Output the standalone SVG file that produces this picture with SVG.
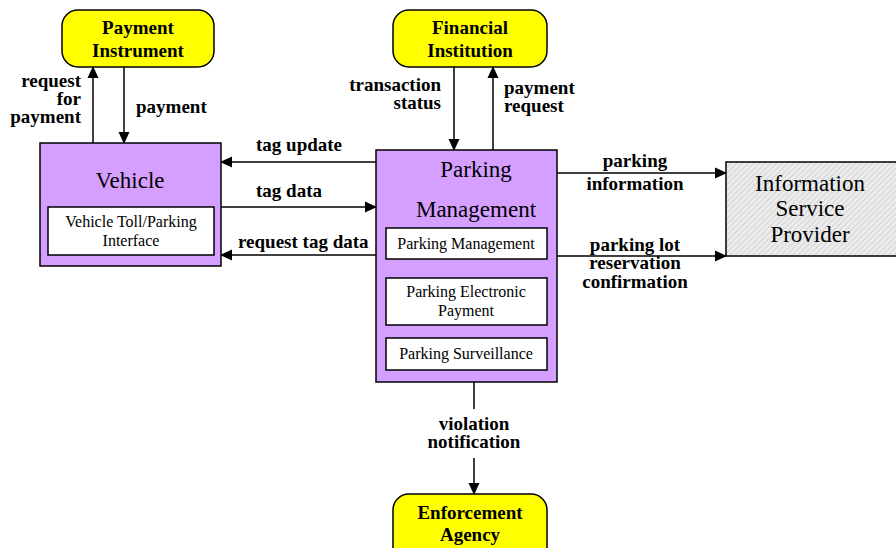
<svg xmlns="http://www.w3.org/2000/svg" width="896" height="548" viewBox="0 0 896 548">
<defs>
<marker id="ah" markerWidth="12" markerHeight="12" refX="11" refY="6" orient="auto" markerUnits="userSpaceOnUse">
<path d="M0,0.5 L12,6 L0,11.5 Z" fill="#000"/>
</marker>
<pattern id="hatch" width="4" height="4" patternUnits="userSpaceOnUse" patternTransform="rotate(45)">
<rect width="4" height="4" fill="#ececec"/>
<line x1="0" y1="0" x2="0" y2="4" stroke="#c4c4c4" stroke-width="1.2"/>
</pattern>
</defs>
<style>
.term{fill:#ffff00;stroke:#000;stroke-width:1.5}
.sys{fill:#d59fff;stroke:#000;stroke-width:1.5}
.sub{fill:#fff;stroke:#000;stroke-width:1.5}
.isp{fill:url(#hatch);stroke:#000;stroke-width:1.5}
.b{font-family:"Liberation Serif",serif;font-weight:bold;font-size:19px;fill:#000}
.big{font-family:"Liberation Serif",serif;font-size:23px;fill:#000}
.sm{font-family:"Liberation Serif",serif;font-size:16px;fill:#000}
.c{text-anchor:middle}
.r{text-anchor:end}
.ln{stroke:#000;stroke-width:1.5;fill:none}
.ar{stroke:#000;stroke-width:1.5;fill:none;marker-end:url(#ah)}
</style>

<g id="connectors">
<line class="ar" x1="93" y1="143" x2="93" y2="67"/>
<line class="ar" x1="124" y1="67" x2="124" y2="143"/>
<line class="ar" x1="376" y1="162" x2="221" y2="162"/>
<line class="ar" x1="221" y1="207" x2="376" y2="207"/>
<line class="ar" x1="376" y1="255" x2="221" y2="255"/>
<line class="ar" x1="454" y1="67" x2="454" y2="150"/>
<line class="ar" x1="493" y1="150" x2="493" y2="67"/>
<line class="ar" x1="557" y1="173" x2="726" y2="173"/>
<line class="ar" x1="557" y1="256" x2="726" y2="256"/>
<line class="ln" x1="474" y1="382" x2="474" y2="409"/>
<line class="ar" x1="474" y1="458" x2="474" y2="494"/>
<text class="b r"><tspan x="81" y="87">request</tspan><tspan x="81" y="105">for</tspan><tspan x="81" y="123">payment</tspan></text>
<text class="b" x="136" y="113">payment</text>
<text class="b" x="256" y="151">tag update</text>
<text class="b" x="256" y="197">tag data</text>
<text class="b" x="238" y="248">request tag data</text>
<text class="b r"><tspan x="441" y="91">transaction</tspan><tspan x="441" y="109">status</tspan></text>
<text class="b"><tspan x="504" y="94">payment</tspan><tspan x="504" y="112">request</tspan></text>
<text class="b c"><tspan x="635" y="167">parking</tspan><tspan x="635" y="190">information</tspan></text>
<text class="b c"><tspan x="635" y="251">parking lot</tspan><tspan x="635" y="269">reservation</tspan><tspan x="635" y="288">confirmation</tspan></text>
<text class="b c"><tspan x="474" y="430">violation</tspan><tspan x="474" y="448">notification</tspan></text>
</g>

<g id="payment-instrument">
<rect class="term" x="62" y="10" width="152" height="57" rx="16"/>
<text class="b c"><tspan x="138" y="34">Payment</tspan><tspan x="138" y="57">Instrument</tspan></text>
</g>

<g id="financial-institution">
<rect class="term" x="393" y="10" width="154" height="57" rx="16"/>
<text class="b c"><tspan x="470" y="34">Financial</tspan><tspan x="470" y="57">Institution</tspan></text>
</g>

<g id="vehicle">
<rect class="sys" x="40" y="143" width="181" height="123"/>
<text class="big c" x="130" y="188">Vehicle</text>
<rect class="sub" x="48" y="207" width="166" height="48"/>
<text class="sm c"><tspan x="131" y="227">Vehicle Toll/Parking</tspan><tspan x="131" y="246">Interface</tspan></text>
</g>

<g id="parking-management">
<rect class="sys" x="376" y="150" width="181" height="232"/>
<text class="big c" x="476" y="177">Parking</text>
<text class="big c" x="476" y="217">Management</text>
<rect class="sub" x="386" y="228" width="161" height="31"/>
<text class="sm c" x="466" y="249">Parking Management</text>
<rect class="sub" x="386" y="278" width="161" height="47"/>
<text class="sm c"><tspan x="466" y="297">Parking Electronic</tspan><tspan x="466" y="316">Payment</tspan></text>
<rect class="sub" x="386" y="338" width="161" height="32"/>
<text class="sm c" x="466" y="359">Parking Surveillance</text>
</g>

<g id="information-service-provider">
<rect class="isp" x="726" y="162" width="172" height="94"/>
<text class="big c"><tspan x="810" y="191">Information</tspan><tspan x="810" y="216">Service</tspan><tspan x="810" y="242">Provider</tspan></text>
</g>

<g id="enforcement-agency">
<rect class="term" x="393" y="494" width="154" height="70" rx="16"/>
<text class="b c"><tspan x="470" y="519">Enforcement</tspan><tspan x="470" y="541">Agency</tspan></text>
</g>
</svg>
